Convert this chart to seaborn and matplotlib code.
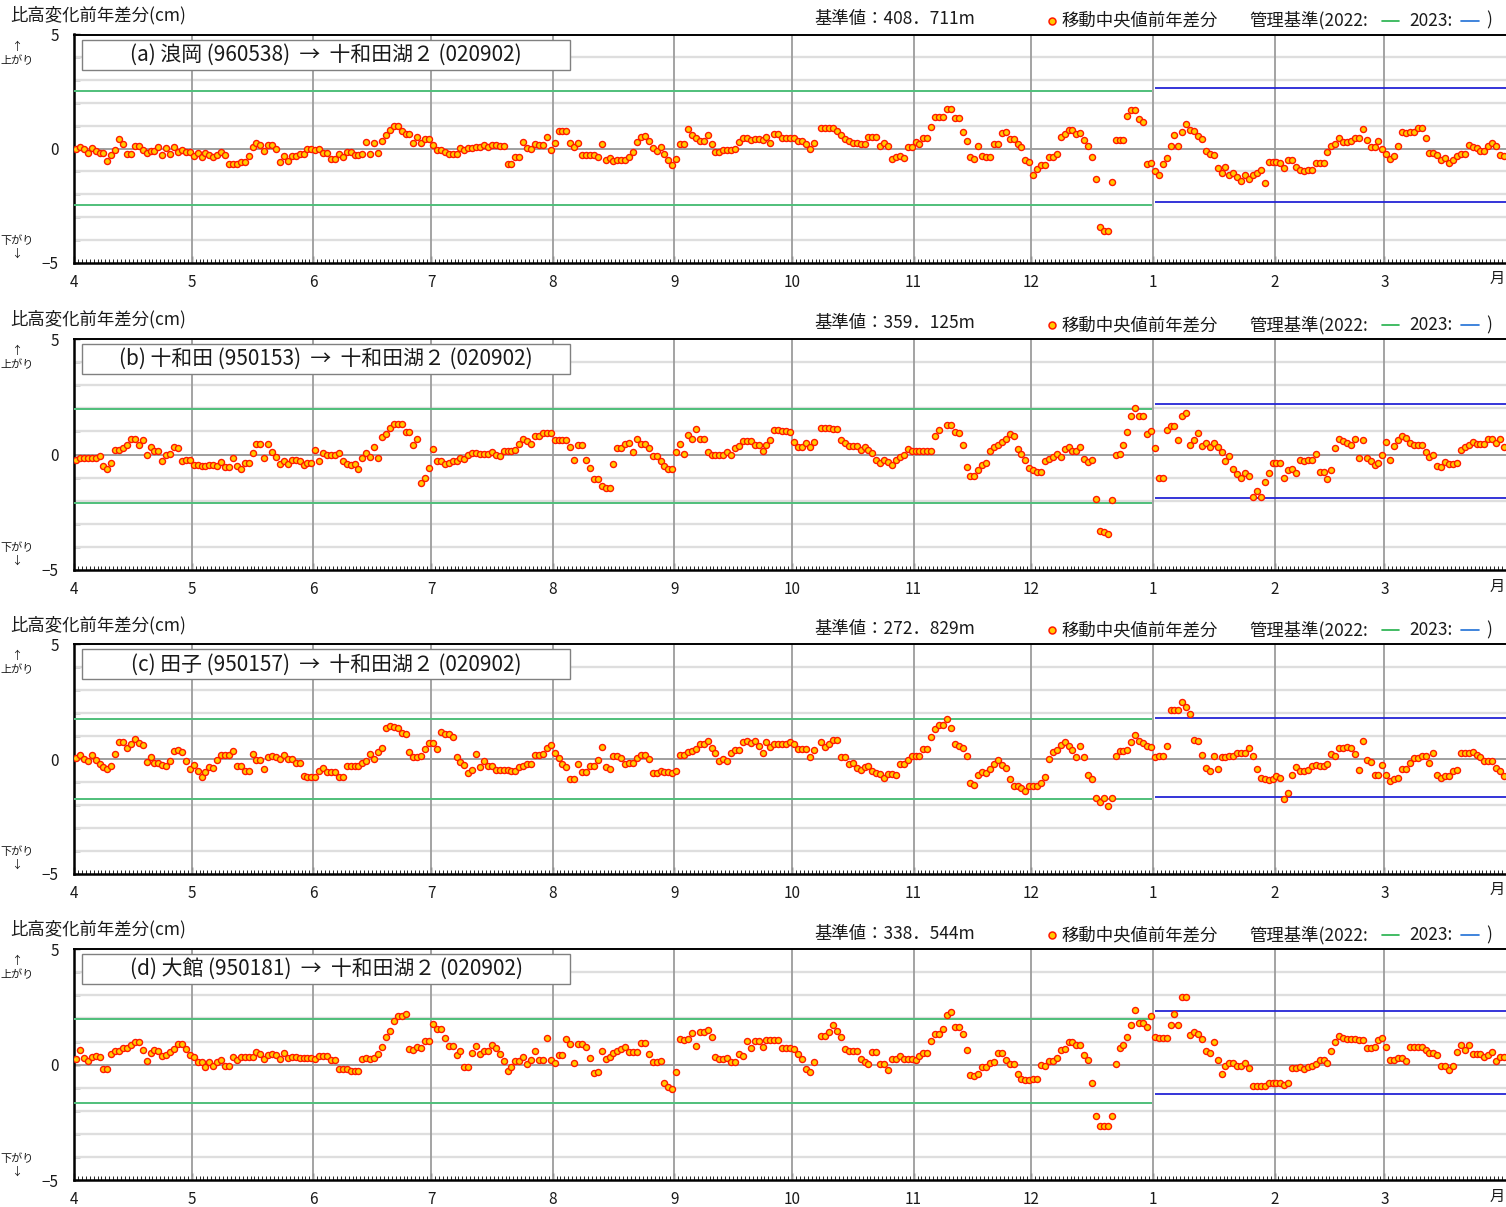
import numpy as np
import pandas as pd
import matplotlib
matplotlib.use('Agg')
import matplotlib.pyplot as plt
import seaborn as sns
from matplotlib.lines import Line2D
from matplotlib.patches import Rectangle

# ---- data (daily moving-median year-on-year difference, cm), Apr 2022 - Mar 2023 ----
month_labels = ['4', '5', '6', '7', '8', '9', '10', '11', '12', '1', '2', '3']
month_days = [30, 31, 30, 31, 31, 30, 31, 30, 31, 31, 28, 31]

panel_titles = [
    '(a) 浪岡 (960538)  →  十和田湖２ (020902)',
    '(b) 十和田 (950153)  →  十和田湖２ (020902)',
    '(c) 田子 (950157)  →  十和田湖２ (020902)',
    '(d) 大館 (950181)  →  十和田湖２ (020902)',
]
base_values = ['408．711m', '359．125m', '272．829m', '338．544m']

# management criteria: (upper, lower) for 2022 and 2023
limits_2022 = [(2.54, -2.48), (1.98, -2.12), (1.73, -1.73), (1.97, -1.64)]
limits_2023 = [(2.66, -2.34), (2.19, -1.90), (1.79, -1.66), (2.33, -1.27)]

nan = np.nan

values_a = [
    0.0, 0.09, 0.0, -0.19, 0.04, -0.12, -0.19, -0.2, -0.53, -0.28,
    -0.06, 0.44, 0.18, -0.25, -0.25, 0.1, 0.1, -0.07, -0.19, -0.09,
    -0.09, 0.06, -0.29, 0.04, -0.22, 0.06, -0.15, -0.06, -0.16, -0.16,
    -0.34, -0.19, -0.39, -0.19, -0.28, -0.35, -0.28, -0.13, -0.28, -0.66,
    -0.66, -0.66, -0.58, -0.58, -0.32, 0.09, 0.25, 0.15, -0.10, 0.15,
    0.15, -0.01, -0.57, -0.31, -0.55, -0.32, -0.32, -0.25, -0.25, -0.01,
    -0.01, -0.06, 0.0, -0.2, -0.2, -0.45, -0.45, -0.22, -0.38, -0.16,
    -0.15, -0.29, -0.29, -0.22, 0.28, -0.22, 0.25, -0.19, 0.34, 0.58,
    0.8, 1.0, 1.0, 0.77, 0.64, 0.64, 0.25, 0.51, 0.25, 0.42,
    0.42, 0.15, -0.06, -0.06, -0.15, -0.23, -0.23, -0.23, 0.01, -0.04,
    0.01, 0.03, 0.09, 0.09, 0.16, 0.07, 0.16, 0.16, 0.13, 0.13,
    -0.66, -0.66, -0.35, -0.35, 0.29, 0.04, -0.01, 0.19, 0.15, 0.15,
    0.5, -0.04, 0.25, 0.76, 0.76, 0.76, 0.25, 0.07, 0.25, -0.29,
    -0.29, -0.29, -0.29, -0.36, 0.18, -0.51, -0.42, -0.55, -0.48, -0.48,
    -0.48, -0.36, -0.15, 0.31, 0.51, 0.54, 0.35, 0.01, -0.1, 0.07,
    -0.23, -0.48, -0.73, -0.44, 0.2, 0.2, 0.85, 0.58, 0.48, 0.35,
    0.35, 0.58, 0.19, -0.16, -0.16, -0.07, -0.04, -0.07, -0.01, 0.28,
    0.48, 0.48, 0.38, 0.42, 0.42, 0.38, 0.51, 0.25, 0.63, 0.63,
    0.48, 0.48, 0.48, 0.48, 0.35, 0.35, 0.2, 0.0, 0.25, nan,
    0.9, 0.9, 0.9, 0.9, 0.77, 0.6, 0.42, 0.32, 0.25, 0.25,
    0.22, 0.22, 0.5, 0.5, 0.5, 0.13, 0.25, 0.13, -0.44, -0.36,
    -0.31, -0.41, 0.07, 0.07, 0.29, 0.18, 0.48, 0.48, 0.93, 1.37,
    1.37, 1.37, 1.72, 1.72, 1.33, 1.33, 0.74, 0.34, -0.36, -0.45,
    0.1, -0.31, -0.39, -0.36, 0.18, 0.18, 0.69, 0.74, 0.42, 0.42,
    0.2, 0.09, -0.48, -0.6, -1.15, -0.91, -0.72, -0.72, -0.35, -0.35,
    -0.22, 0.5, 0.63, 0.83, 0.83, 0.63, 0.69, 0.36, 0.1, -0.36,
    -1.33, -3.43, -3.6, -3.6, -1.47, 0.38, 0.38, 0.38, 1.43, 1.68,
    1.68, 1.3, 1.15, -0.69, -0.64, -1.0, -1.15, -0.67, -0.42, 0.13,
    0.58, 0.13, 0.73, 1.08, 0.82, 0.77, 0.54, 0.44, -0.09, -0.23,
    -0.28, -0.85, -1.05, -0.8, -1.15, -1.07, -1.26, -1.4, -1.15, -1.33,
    -1.15, -1.07, -0.93, -1.5, -0.58, -0.58, -0.58, -0.63, -0.85, -0.51,
    -0.48, -0.82, -0.92, -0.98, -0.95, -0.95, -0.63, -0.63, -0.63, -0.16,
    0.1, 0.19, 0.47, 0.31, 0.31, 0.35, 0.47, 0.47, 0.85, 0.38,
    0.07, 0.07, 0.34, 0.0, -0.23, -0.45, -0.31, 0.13, 0.73, 0.69,
    0.74, 0.74, 0.92, 0.92, 0.48, -0.19, -0.19, -0.26, -0.51, -0.41,
    -0.63, -0.48, -0.31, -0.22, -0.22, 0.15, 0.09, 0.01, -0.09, -0.09,
    0.13, 0.25, 0.13, -0.29, -0.34,
]

values_b = [
    -0.25, -0.16, -0.17, -0.17, -0.17, -0.17, -0.06, -0.49, -0.63, -0.35,
    0.19, 0.19, 0.29, 0.43, 0.69, 0.69, 0.39, 0.61, -0.01, 0.33,
    0.14, 0.14, -0.3, -0.03, 0.01, 0.33, 0.3, -0.29, -0.25, -0.25,
    -0.46, -0.46, -0.51, -0.49, -0.46, -0.46, -0.51, -0.32, -0.55, -0.55,
    -0.13, -0.51, -0.62, -0.38, -0.38, 0.07, 0.45, 0.45, -0.17, 0.45,
    0.1, -0.1, -0.43, -0.27, -0.43, -0.22, -0.22, -0.3, -0.46, -0.35,
    -0.35, 0.2, -0.3, 0.07, -0.01, -0.01, -0.01, 0.06, -0.3, -0.39,
    -0.45, -0.39, -0.61, -0.13, 0.07, -0.12, 0.33, -0.13, 0.76, 0.88,
    1.14, 1.31, 1.31, 1.31, 0.97, 0.97, 0.42, 0.68, -1.24, -1.01,
    -0.59, 0.23, -0.3, -0.26, -0.43, -0.36, -0.27, -0.3, -0.16, -0.2,
    -0.03, 0.06, 0.06, 0.01, 0.01, 0.01, 0.09, 0.0, -0.07, 0.17,
    0.17, 0.17, 0.2, 0.46, 0.68, 0.58, 0.46, 0.78, 0.78, 0.95,
    0.95, 0.95, 0.62, 0.62, 0.62, 0.61, 0.33, -0.25, 0.4, 0.4,
    -0.25, -0.58, -1.04, -1.04, -1.37, -1.47, -1.47, -0.42, 0.3, 0.3,
    0.45, 0.48, 0.09, 0.65, 0.45, 0.45, 0.27, -0.07, -0.07, -0.26,
    -0.49, -0.63, -0.63, 0.12, 0.46, 0.03, 0.84, 0.68, 1.1, 0.65,
    0.65, 0.1, 0.0, -0.04, -0.04, -0.04, 0.12, -0.03, 0.3, 0.38,
    0.59, 0.59, 0.59, 0.42, 0.42, 0.14, 0.43, 0.61, 1.04, 1.04,
    1.01, 1.01, 0.97, 0.53, 0.32, 0.32, 0.48, 0.32, 0.53, nan,
    1.15, 1.15, 1.15, 1.11, 1.11, 0.62, 0.51, 0.38, 0.38, 0.36,
    0.2, 0.32, 0.2, 0.06, -0.22, -0.35, -0.25, -0.33, -0.46, -0.25,
    -0.12, -0.04, 0.25, 0.17, 0.14, 0.14, 0.14, 0.14, 0.14, 0.82,
    1.04, nan, 1.27, 1.27, 0.97, 0.94, 0.43, -0.52, -0.93, -0.93,
    -0.65, -0.46, -0.35, 0.14, 0.32, 0.39, 0.55, 0.66, 0.87, 0.81,
    0.23, 0.04, -0.25, -0.59, -0.69, -0.75, -0.75, -0.29, -0.19, -0.1,
    0.04, -0.1, 0.25, 0.32, 0.14, 0.14, 0.32, -0.19, -0.32, -0.25,
    -1.92, -3.32, -3.35, -3.42, -1.95, -0.03, 0.01, 0.43, 0.97, 1.66,
    2.03, 1.65, 1.65, 0.88, 1.01, 0.27, -1.01, -1.01, 1.05, 1.23,
    1.23, 0.61, 1.66, 1.79, 0.39, 0.61, 0.94, 0.38, 0.51, 0.33,
    0.51, 0.33, 0.12, -0.3, -0.07, -0.63, -0.85, -1.01, -0.78, -0.94,
    -1.82, -1.59, -1.86, -1.18, -0.82, -0.36, -0.36, -0.36, -1.0, -0.65,
    -0.62, -0.82, -0.22, -0.29, -0.22, -0.22, 0.04, -0.76, -0.76, -1.08,
    -0.69, 0.27, 0.66, 0.59, 0.48, 0.4, 0.65, -0.13, 0.61, -0.13,
    -0.29, -0.46, -0.36, 0.0, 0.56, -0.22, 0.36, 0.61, 0.81, 0.72,
    0.51, 0.43, 0.4, 0.43, 0.09, -0.09, -0.04, -0.51, -0.55, -0.33,
    -0.39, -0.39, -0.35, 0.19, 0.33, 0.39, 0.53, 0.45, 0.45, 0.45,
    0.66, 0.66, 0.51, 0.68, 0.32,
]

values_c = [
    0.06, 0.19, -0.01, -0.1, 0.19, -0.06, -0.22, -0.33, -0.45, -0.29,
    0.2, 0.76, 0.76, 0.47, 0.64, 0.86, 0.7, 0.6, -0.13, 0.07,
    -0.16, -0.16, -0.28, -0.32, -0.09, 0.35, 0.41, 0.31, -0.09, -0.42,
    -0.28, -0.54, -0.78, -0.57, -0.36, -0.38, -0.04, 0.17, 0.16, 0.16,
    0.33, -0.29, -0.29, -0.52, -0.52, 0.2, -0.04, -0.04, -0.42, 0.09,
    0.13, 0.09, 0.0, 0.16, 0.01, 0.0, -0.19, -0.19, -0.74, -0.78,
    -0.78, -0.78, -0.54, -0.41, -0.57, -0.57, -0.57, -0.78, -0.78, -0.32,
    -0.32, -0.32, -0.32, -0.17, -0.09, 0.2, -0.01, 0.31, 0.49, 1.34,
    1.42, 1.4, 1.35, 1.13, 1.1, 0.31, 0.09, 0.09, 0.13, 0.42,
    0.71, 0.71, 0.42, 1.18, 1.1, 1.1, 0.96, 0.09, -0.15, -0.28,
    -0.6, -0.48, 0.2, -0.36, -0.07, -0.31, -0.31, -0.49, -0.49, -0.49,
    -0.49, -0.52, -0.52, -0.36, -0.31, -0.23, -0.23, 0.16, 0.16, 0.23,
    0.49, 0.61, 0.25, 0.03, -0.23, -0.36, -0.86, -0.86, -0.23, -0.58,
    -0.58, -0.29, -0.29, -0.03, 0.52, -0.33, -0.44, 0.15, 0.13, 0.06,
    -0.23, -0.17, -0.17, 0.04, 0.17, 0.17, -0.01, -0.6, -0.6, -0.52,
    -0.58, -0.58, -0.61, -0.52, 0.19, 0.19, 0.31, 0.36, 0.42, 0.64,
    0.64, 0.8, 0.47, 0.25, -0.09, -0.01, -0.09, 0.26, 0.38, 0.38,
    0.73, 0.8, 0.71, 0.8, 0.57, 0.28, 0.74, 0.54, 0.64, 0.64,
    0.64, 0.64, 0.74, 0.64, 0.42, 0.42, 0.42, 0.09, 0.41, nan,
    0.74, 0.54, 0.64, 0.81, 0.81, 0.07, 0.07, -0.22, -0.16, -0.39,
    -0.47, -0.35, -0.29, -0.51, -0.6, -0.64, -0.83, -0.67, -0.67, -0.71,
    -0.23, -0.2, -0.04, 0.12, 0.12, 0.12, 0.42, 0.42, 0.94, 1.31,
    1.5, 1.5, 1.76, 1.37, 0.64, 0.55, 0.49, 0.13, -1.03, -1.12,
    -0.71, -0.58, -0.61, -0.42, -0.2, -0.04, -0.25, -0.38, -0.86, -1.18,
    -1.18, -1.28, -1.38, -1.19, -1.19, -1.19, -1.06, -0.77, -0.01, 0.29,
    0.39, 0.6, 0.76, 0.58, 0.41, 0.09, 0.58, 0.09, -0.7, -0.89,
    -1.7, -1.88, -1.7, -2.05, -1.7, 0.15, 0.35, 0.35, 0.41, 0.74,
    1.03, 0.77, 0.68, 0.55, 0.54, 0.1, 0.12, 0.13, 0.57, 2.15,
    2.15, 2.15, 2.5, 2.25, 1.95, 0.84, 0.77, 0.17, -0.39, -0.54,
    0.15, -0.45, 0.1, 0.1, 0.12, 0.15, 0.25, 0.26, 0.25, 0.47,
    0.15, -0.42, -0.84, -0.87, -0.93, -0.89, -0.74, -0.84, -1.74, -1.48,
    -0.71, -0.33, -0.51, -0.51, -0.49, -0.29, -0.28, -0.31, -0.31, -0.23,
    0.2, 0.15, 0.49, 0.49, 0.52, 0.48, 0.2, -0.49, 0.77, -0.04,
    -0.12, -0.71, -0.71, -0.28, -0.71, -0.94, -0.86, -0.83, -0.44, -0.44,
    -0.17, 0.03, 0.04, 0.12, 0.12, -0.16, 0.26, -0.68, -0.83, -0.74,
    -0.74, -0.51, -0.47, 0.25, 0.25, 0.25, 0.29, 0.19, 0.09, -0.07,
    -0.07, -0.07, -0.39, -0.52, -0.73,
]

values_d = [
    0.26, 0.62, 0.3, 0.14, 0.33, 0.36, 0.32, -0.2, -0.2, 0.46,
    0.58, 0.58, 0.72, 0.72, 0.84, 0.98, 0.98, 0.63, 0.17, 0.52,
    0.63, 0.61, 0.37, 0.42, 0.53, 0.68, 0.88, 0.88, 0.66, 0.42,
    0.33, 0.1, 0.1, -0.12, 0.1, -0.07, 0.13, 0.19, -0.06, -0.06,
    0.33, 0.19, 0.33, 0.33, 0.33, 0.33, 0.56, 0.45, 0.26, 0.4,
    0.45, 0.4, 0.26, 0.49, 0.29, 0.32, 0.32, 0.29, 0.29, 0.29,
    0.29, 0.26, 0.37, 0.37, 0.37, 0.19, 0.19, -0.2, -0.2, -0.2,
    -0.27, -0.27, -0.27, 0.23, 0.29, 0.23, 0.29, 0.45, 0.75, 1.21,
    1.47, 1.87, 2.12, 2.12, 2.2, 0.66, 0.63, 0.75, 0.71, 1.01,
    1.04, 1.76, 1.53, 1.53, 1.14, 0.79, 0.79, 0.4, 0.58, -0.09,
    -0.09, 0.5, 0.79, 0.45, 0.58, 0.58, 0.85, 0.71, 0.46, 0.17,
    -0.26, -0.12, 0.17, 0.14, 0.32, 0.01, 0.2, 0.61, 0.2, 0.2,
    1.17, 0.2, 0.09, 0.4, 0.4, 1.1, 0.88, 0.09, 0.89, 0.89,
    0.76, 0.3, -0.36, -0.32, 0.58, 0.26, 0.32, 0.49, 0.59, 0.66,
    0.75, 0.53, 0.53, 0.53, 0.92, 0.92, 0.45, 0.12, 0.12, 0.14,
    -0.79, -0.98, -1.07, -0.33, 1.1, 1.05, 1.11, 1.38, 0.82, 1.41,
    1.41, 1.48, 1.18, 0.33, 0.26, 0.26, 0.3, 0.12, 0.12, 0.46,
    0.36, 1.02, 0.71, 1.02, 1.02, 0.76, 1.05, 1.05, 1.05, 1.05,
    0.73, 0.73, 0.72, 0.69, 0.46, 0.26, -0.17, -0.32, 0.12, nan,
    1.25, 1.25, 1.43, 1.7, 1.46, 1.21, 0.66, 0.58, 0.61, 0.58,
    0.26, 0.1, 0.01, 0.55, 0.55, 0.01, 0.01, -0.22, 0.23, 0.23,
    0.37, 0.26, 0.26, 0.26, 0.19, 0.37, 0.49, 0.49, 1.04, 1.31,
    1.34, 1.53, 2.13, 2.26, 1.61, 1.61, 1.31, 0.62, -0.45, -0.5,
    -0.42, -0.09, -0.12, 0.09, 0.12, 0.52, 0.5, 0.22, 0.04, 0.04,
    -0.39, -0.62, -0.68, -0.68, -0.62, -0.62, -0.03, -0.06, 0.16, 0.16,
    0.29, 0.65, 0.68, 0.97, 0.97, 0.85, 0.85, 0.42, 0.19, -0.78,
    -2.2, -2.64, -2.64, -2.64, -2.23, 0.04, 0.73, 0.84, 1.18, 1.7,
    2.36, 1.79, 1.79, 1.61, 2.1, 1.2, 1.14, 1.14, 1.14, 1.7,
    2.18, 1.7, 2.91, 2.91, 1.28, 1.4, 1.31, 1.1, 0.59, 0.49,
    0.97, 0.22, -0.4, -0.07, 0.07, 0.07, -0.07, -0.07, 0.07, -0.16,
    -0.91, -0.91, -0.91, -0.91, -0.78, -0.78, -0.78, -0.78, -0.89, -0.78,
    -0.16, -0.16, -0.1, -0.2, -0.1, -0.06, 0.01, 0.2, 0.2, 0.07,
    0.59, 0.98, 1.22, 1.17, 1.1, 1.1, 1.1, 1.05, 1.08, 0.72,
    0.72, 0.75, 1.08, 1.17, 0.75, 0.19, 0.19, 0.29, 0.29, 0.16,
    0.75, 0.75, 0.75, 0.75, 0.62, 0.52, 0.52, 0.4, -0.07, -0.07,
    -0.24, -0.07, 0.53, 0.84, 0.62, 0.84, 0.48, 0.45, 0.45, 0.33,
    0.4, 0.55, 0.17, 0.33, 0.33,
]

all_values = [values_a, values_b, values_c, values_d]

# ---- figure ----
sns.set_style('white')
plt.rcParams['font.family'] = ['Noto Sans CJK JP', 'DejaVu Sans']

W, H = 1506, 1207
fig = plt.figure(figsize=(W / 100, H / 100), dpi=100)


def fx(x):
    return x / W


def fy(y):
    return 1 - y / H


TXT = '#1a1a1a'
DOT_FACE = '#ffcc00'
DOT_EDGE = '#ff1a00'
GREEN = '#4fbf7a'
BLUE = '#2424d6'
HDR = 12.5

month_starts = np.concatenate([[0], np.cumsum(month_days)])  # 0 .. 365
n_days = int(month_starts[-1])

panel_top = [34.5, 339, 644.3, 949]
panel_bottom = [262.7, 570, 873.7, 1180.3]
x0 = 74

for i in range(4):
    top, bot = panel_top[i], panel_bottom[i]
    ax = fig.add_axes([fx(x0), fy(bot), fx(W - x0), (bot - top) / H])
    ax.set_xlim(0, n_days)
    ax.set_ylim(-5, 5)

    # grid
    for v in range(-4, 5):
        if v != 0:
            ax.axhline(v, color='#dedede', lw=1.7, zorder=1)
    ax.axhline(0, color='#a0a0a0', lw=1.4, zorder=2)
    for b in month_starts[1:-1]:
        ax.axvline(b, color='#9c9c9c', lw=1.3, zorder=2)

    # management criteria
    g_hi, g_lo = limits_2022[i]
    b_hi, b_lo = limits_2023[i]
    jan1 = month_starts[9]
    ax.hlines([g_hi, g_lo], 0, jan1 - 0.3, color=GREEN, lw=1.4, zorder=3)
    ax.hlines([b_hi, b_lo], jan1 + 0.5, n_days, color=BLUE, lw=1.3, zorder=3)

    df = pd.DataFrame({'day': np.arange(n_days) + 0.5, 'value': all_values[i]})
    sns.scatterplot(data=df, x='day', y='value', ax=ax, s=19, color=DOT_FACE,
                    edgecolor=DOT_EDGE, linewidth=1.0, zorder=5, legend=False)
    ax.set_xlabel('')
    ax.set_ylabel('')

    for side in ['left', 'bottom', 'top']:
        ax.spines[side].set_visible(True)
        ax.spines[side].set_color('black')
    ax.spines['left'].set_linewidth(1.8)
    ax.spines['bottom'].set_linewidth(1.8)
    ax.spines['top'].set_linewidth(1.4)
    ax.spines['right'].set_visible(False)

    ax.set_xticks(month_starts[:-1])
    ax.set_xticklabels(month_labels, fontsize=11, color=TXT)
    ax.set_xticks(np.arange(0, n_days + 1), minor=True)
    ax.tick_params(axis='x', which='major', direction='in', length=5, width=1, pad=8, bottom=True)
    ax.tick_params(axis='x', which='minor', direction='in', length=3, width=0.7, bottom=True)

    ax.set_yticks([-5, 0, 5])
    ax.set_yticklabels(['−5', '0', '5'], fontsize=11, color=TXT)
    ax.set_yticks(np.arange(-5, 6), minor=True)
    ax.tick_params(axis='y', which='major', direction='in', length=4, width=1, pad=11, left=True)
    ax.tick_params(axis='y', which='minor', direction='in', length=4, width=1, left=True)

    # header texts
    fig.text(fx(10), fy(top - 19.5), '比高変化前年差分(cm)', fontsize=HDR, color=TXT,
             ha='left', va='center')
    fig.text(fx(814), fy(top - 15.5), '基準値：' + base_values[i], fontsize=HDR,
             color=TXT, ha='left', va='center')
    ly = top - 14
    fig.add_artist(Line2D([fx(1052)], [fy(ly)], marker='o', markersize=5,
                          markerfacecolor=DOT_FACE, markeredgecolor=DOT_EDGE,
                          markeredgewidth=1.1, transform=fig.transFigure))
    fig.text(fx(1062), fy(ly), '移動中央値前年差分', fontsize=HDR, color=TXT,
             ha='left', va='center')
    fig.text(fx(1249), fy(ly), '管理基準(2022:', fontsize=HDR, color=TXT,
             ha='left', va='center')
    fig.add_artist(Line2D([fx(1382), fx(1399)], [fy(ly), fy(ly)], color='#22b04a',
                          lw=1.2, transform=fig.transFigure))
    fig.text(fx(1409), fy(ly), '2023:', fontsize=HDR, color=TXT, ha='left', va='center')
    fig.add_artist(Line2D([fx(1461), fx(1479)], [fy(ly), fy(ly)], color='#1f6fd6',
                          lw=1.2, transform=fig.transFigure))
    fig.text(fx(1486), fy(ly), ')', fontsize=HDR, color=TXT, ha='left', va='center')

    # up / down hints
    fig.text(fx(17), fy(top + 12), '↑', fontsize=8, color=TXT, ha='center', va='center')
    fig.text(fx(17), fy(top + 26), '上がり', fontsize=8, color=TXT, ha='center', va='center')
    fig.text(fx(17), fy(bot - 22), '下がり', fontsize=8, color=TXT, ha='center', va='center')
    fig.text(fx(17), fy(bot - 9), '↓', fontsize=8, color=TXT, ha='center', va='center')

    # month unit
    fig.text(fx(1497), fy(bot + 16), '月', fontsize=11, color=TXT, ha='center', va='center')

    # title box
    fig.add_artist(Rectangle((fx(82), fy(top + 35)), fx(570 - 82), 30 / H,
                             transform=fig.transFigure, facecolor='white',
                             edgecolor='#808080', lw=1.0, zorder=6))
    fig.text(fx(326), fy(top + 20), panel_titles[i], fontsize=15, color=TXT,
             ha='center', va='center', zorder=7)

fig.savefig('out.png', dpi=100)
